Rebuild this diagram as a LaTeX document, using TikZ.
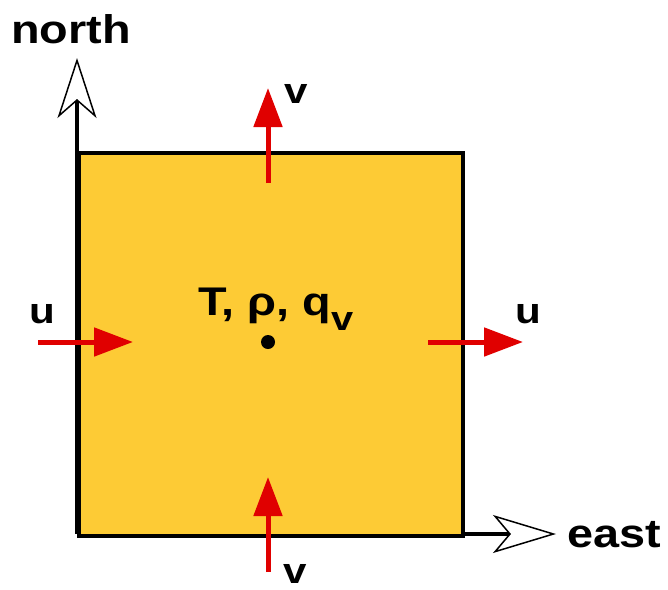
\documentclass[tikz,border=0pt]{standalone}
\usepackage{fontspec}
\setmainfont{Liberation Sans}[FakeStretch=1.17]
\usetikzlibrary{arrows.meta}
\definecolor{boxfill}{HTML}{FDCB35}
\definecolor{flowred}{HTML}{E00000}
\tikzset{
  lbl/.style={font=\fontsize{40}{40}\selectfont\bfseries, inner sep=0pt, anchor=base west},
  small/.style={font=\fontsize{36}{36}\selectfont\bfseries},
  flow/.style={draw=flowred, line width=5pt, -{Triangle[length=39pt,width=28pt]}},
  axisline/.style={draw=black, line width=4pt}
}
\begin{document}
\begin{tikzpicture}[x=1pt,y=-1pt]
\useasboundingbox (0,0) rectangle (668,589);
% box
\node[draw=black, fill=boxfill, line width=4pt, minimum width=384pt, minimum height=383pt, inner sep=0pt, anchor=north west] (box) at (77,151) {};
% axes
\coordinate (origin) at (77,534);
\coordinate (ntip) at (77,58);
\coordinate (corner) at (461,534);
\coordinate (etip) at (556,534);
\draw[axisline, -{Stealth[length=60pt,width=39pt,inset=17pt,fill=white,line width=1.5pt]}] (origin) -- (ntip);
\draw[axisline, -{Stealth[length=63pt,width=38pt,inset=16pt,fill=white,line width=1.5pt]}] (corner) -- (etip);
\node[lbl] (north) at (11,43) {north};
\node[lbl] (east) at (567,547) {east};
% flows
\coordinate (vt0) at (268,183); \coordinate (vt1) at (268,88);
\coordinate (vb0) at (268,572); \coordinate (vb1) at (268,477);
\coordinate (ul0) at (38,342); \coordinate (ul1) at (133,342);
\coordinate (ur0) at (428,342); \coordinate (ur1) at (523,342);
\draw[flow] (vt0) -- (vt1);
\draw[flow] (vb0) -- (vb1);
\draw[flow] (ul0) -- (ul1);
\draw[flow] (ur0) -- (ur1);
\node[lbl, small] (vtop) at (284,103) {v};
\node[lbl, small] (vbot) at (283,583) {v};
\node[lbl, small] (ulft) at (29,323) {u};
\node[lbl, small] (urgt) at (515,323) {u};
% centre
\fill (268,342) circle (7pt) coordinate (centre);
\node[lbl, font=\fontsize{40}{40}\selectfont\bfseries] (state) at (198,315) {T, ρ, q\raisebox{-15pt}{\fontsize{34}{34}\selectfont v}};
\end{tikzpicture}
\end{document}
